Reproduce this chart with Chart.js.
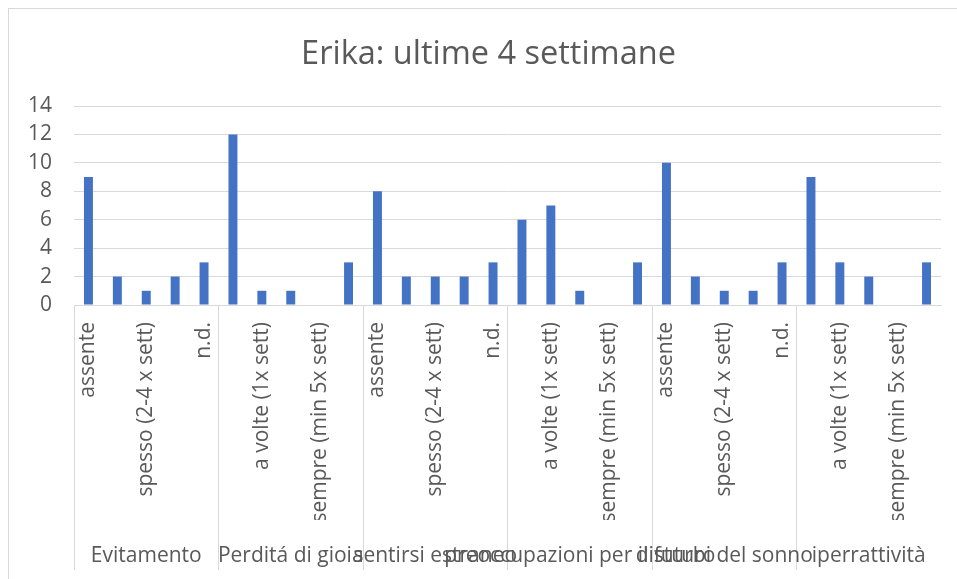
<!DOCTYPE html>
<html>
<head>
<meta charset="utf-8">
<script src="https://cdn.jsdelivr.net/npm/chart.js@4"></script>
<style>
  body { margin: 0; background: #fff; overflow: hidden; }
  #frame { position: absolute; left: 8px; top: 8px; width: 960px; height: 580px;
           border-top: 1px solid #d9d9d9; border-left: 1px solid #d9d9d9; }
  #myChart { position: absolute; left: 9px; top: 9px; }
</style>
</head>
<body>
<div id="frame"></div>
<canvas id="myChart" width="959" height="570"></canvas>
<script>
// categorie (livello interno) e gruppi (livello esterno)
var levels = ["assente", "a volte (1x sett)", "spesso (2-4 x sett)", "sempre (min 5x sett)", "n.d."];
var groups = ["Evitamento", "Perditá di gioia", "sentirsi estraneo", "preoccupazioni per il futuro", "disturbi del sonno", "iperrattività"];

// valori per gruppo, nello stesso ordine di levels
var evitamento = [9, 2, 1, 2, 3];
var perditaGioia = [12, 1, 1, 0, 3];
var estraneo = [8, 2, 2, 2, 3];
var futuro = [6, 7, 1, 0, 3];
var sonno = [10, 2, 1, 1, 3];
var iperattivita = [9, 3, 2, 0, 3];

var yTicks = [0, 2, 4, 6, 8, 10, 12, 14];

var labels = [];
groups.forEach(function () { labels = labels.concat(levels); });
var values = [].concat(evitamento, perditaGioia, estraneo, futuro, sonno, iperattivita);

var font = "'Open Sans', sans-serif";
var grey = "#595959";
var line = "#d9d9d9";

var ctx = document.getElementById('myChart').getContext('2d');
var myChart = new Chart(ctx, {
  type: 'bar',
  data: {
    labels: labels,
    datasets: [{
      data: values,
      backgroundColor: '#4472C4',
      categoryPercentage: 1,
      barPercentage: 0.31
    }]
  },
  options: {
    responsive: false,
    animation: false,
    layout: { padding: { left: 0, right: 0, top: 0, bottom: 9 } },
    plugins: {
      legend: { display: false },
      tooltip: { enabled: false },
      title: {
        display: true,
        text: 'Erika: ultime 4 settimane',
        color: grey,
        font: { family: font, size: 32.5, weight: 'normal' },
        padding: { top: 26, bottom: 32 }
      }
    },
    scales: {
      y: {
        min: 0,
        max: 14,
        afterBuildTicks: function (axis) {
          axis.ticks = yTicks.map(function (v) { return { value: v }; });
        },
        afterFit: function (scale) { scale.width = 65; },
        grid: { color: line, drawTicks: false },
        border: { display: false },
        ticks: { color: grey, font: { family: font, size: 21 }, padding: 22 }
      },
      // spazio vuoto a destra dell'area del grafico (il titolo resta centrato sull'intero riquadro)
      yRight: {
        position: 'right',
        grid: { display: false },
        border: { display: false },
        ticks: { display: false },
        afterFit: function (scale) { scale.width = 27; }
      },
      x: {
        offset: true,
        afterFit: function (scale) { scale.height = 215; },
        grid: {
          offset: true,
          drawOnChartArea: false,
          tickLength: 265,
          color: function (c) { return c.index % 5 === 0 ? line : 'rgba(0,0,0,0)'; }
        },
        border: { color: line },
        ticks: {
          autoSkip: false,
          minRotation: 90,
          maxRotation: 90,
          padding: -248,
          color: grey,
          font: { family: font, size: 21 },
          callback: function (val, i) {
            return i % 2 === 0 ? this.getLabelForValue(val) : '';
          }
        }
      },
      x2: {
        type: 'category',
        axis: 'x',
        position: 'bottom',
        labels: groups,
        offset: true,
        afterFit: function (scale) { scale.height = 50; },
        grid: { display: false },
        border: { display: false },
        ticks: {
          autoSkip: false,
          minRotation: 0,
          maxRotation: 0,
          padding: 15,
          color: grey,
          font: { family: font, size: 21 }
        }
      }
    }
  }
});
</script>
</body>
</html>
